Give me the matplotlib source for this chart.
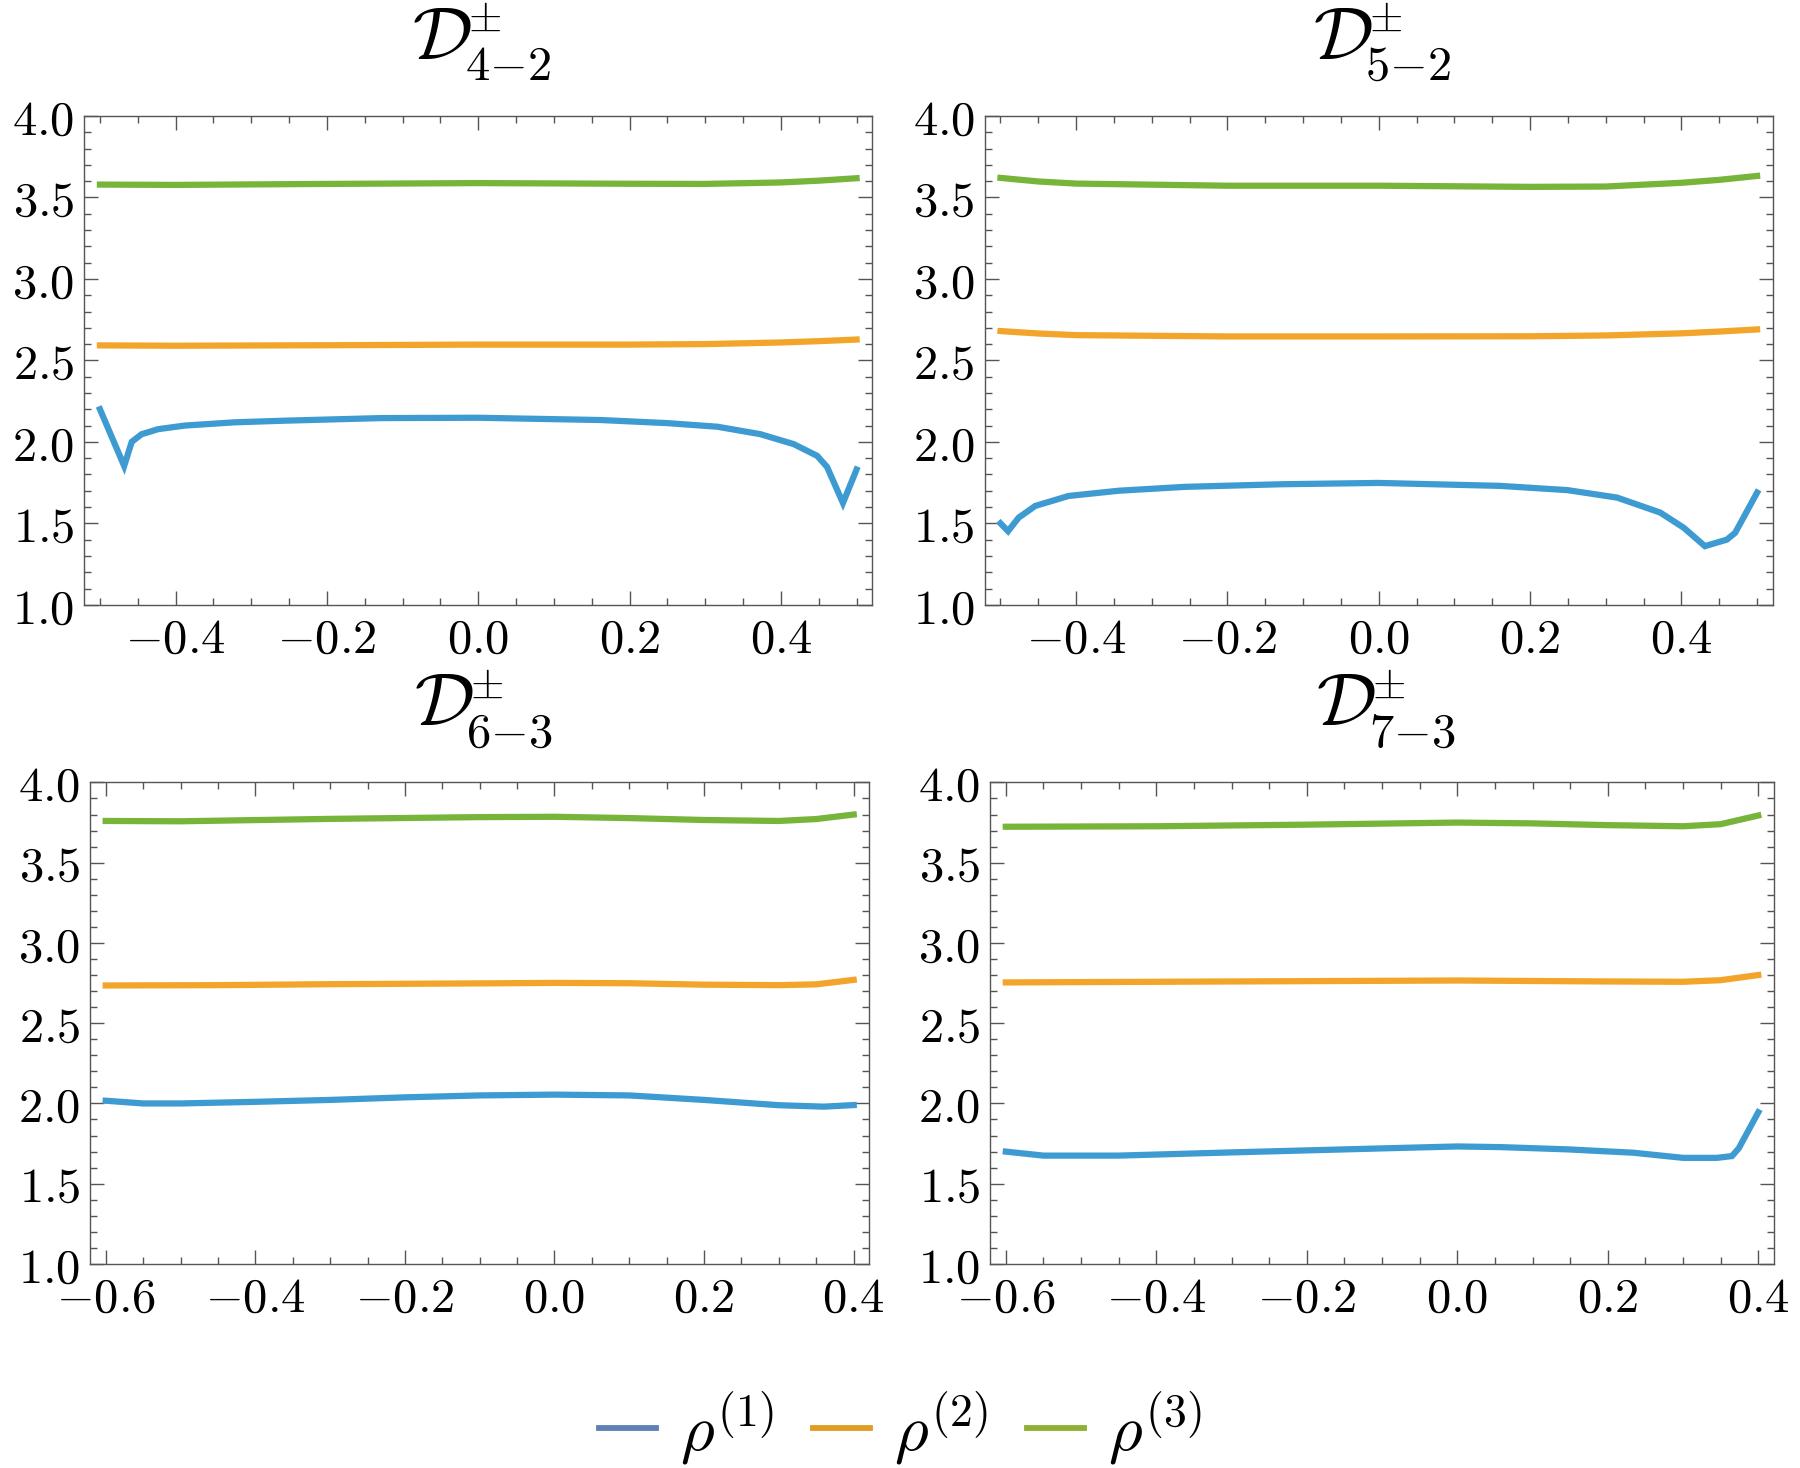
"""
Four-panel comparison of rho^(1..3) for the D^pm channels
"""

import numpy as np
import matplotlib.pyplot as plt
from matplotlib.lines import Line2D
from matplotlib.ticker import FixedLocator, FixedFormatter, MultipleLocator

plt.rcParams['mathtext.fontset'] = 'cm'
plt.rcParams['font.family'] = 'serif'
plt.rcParams['font.serif'] = ['DejaVu Serif']

# ---- data ----
subscripts = [r'$4{-}2$', r'$5{-}2$', r'$6{-}3$', r'$7{-}3$']
legend_labels = [r'$\rho^{(1)}$', r'$\rho^{(2)}$', r'$\rho^{(3)}$']

# panel 4-2
x42_r1 = [-0.50, -0.468, -0.458, -0.445, -0.423, -0.388, -0.322, -0.256, -0.128, 0.0,
          0.162, 0.25, 0.316, 0.373, 0.417, 0.448, 0.461, 0.482, 0.50]
y42_r1 = [2.20, 1.852, 2.0, 2.047, 2.078, 2.10, 2.12, 2.13, 2.146, 2.148,
          2.134, 2.115, 2.093, 2.047, 1.986, 1.914, 1.846, 1.625, 1.83]
x42_r2 = [-0.50, -0.4, -0.2, 0.0, 0.2, 0.3, 0.4, 0.45, 0.50]
y42_r2 = [2.592, 2.590, 2.593, 2.597, 2.597, 2.600, 2.610, 2.618, 2.628]
x42_r3 = [-0.50, -0.4, -0.2, 0.0, 0.2, 0.3, 0.4, 0.45, 0.50]
y42_r3 = [3.579, 3.577, 3.583, 3.588, 3.584, 3.583, 3.592, 3.603, 3.618]

# panel 5-2
x52_r1 = [-0.50, -0.49, -0.476, -0.454, -0.41, -0.344, -0.256, -0.128, 0.0,
          0.16, 0.249, 0.315, 0.372, 0.403, 0.431, 0.46, 0.471, 0.50]
y52_r1 = [1.50, 1.452, 1.535, 1.607, 1.668, 1.70, 1.724, 1.74, 1.748,
          1.73, 1.704, 1.658, 1.566, 1.473, 1.36, 1.40, 1.442, 1.689]
x52_r2 = [-0.50, -0.45, -0.4, -0.2, 0.0, 0.2, 0.3, 0.4, 0.45, 0.50]
y52_r2 = [2.680, 2.665, 2.655, 2.647, 2.647, 2.648, 2.653, 2.666, 2.677, 2.690]
x52_r3 = [-0.50, -0.45, -0.4, -0.2, 0.0, 0.2, 0.3, 0.4, 0.45, 0.50]
y52_r3 = [3.620, 3.598, 3.585, 3.572, 3.572, 3.565, 3.567, 3.590, 3.608, 3.632]

# panel 6-3
x63_r1 = [-0.60, -0.55, -0.50, -0.40, -0.30, -0.20, -0.10, 0.0, 0.10, 0.20,
          0.30, 0.36, 0.40]
y63_r1 = [2.017, 2.0, 2.0, 2.01, 2.022, 2.038, 2.05, 2.055, 2.05, 2.022,
          1.989, 1.98, 1.99]
x63_r2 = [-0.60, -0.45, -0.30, -0.10, 0.0, 0.10, 0.20, 0.30, 0.35, 0.40]
y63_r2 = [2.735, 2.737, 2.743, 2.748, 2.751, 2.749, 2.740, 2.737, 2.742, 2.770]
x63_r3 = [-0.60, -0.50, -0.30, -0.10, 0.0, 0.10, 0.20, 0.30, 0.35, 0.40]
y63_r3 = [3.760, 3.758, 3.773, 3.784, 3.786, 3.778, 3.766, 3.760, 3.772, 3.800]

# panel 7-3
x73_r1 = [-0.60, -0.55, -0.45, -0.30, -0.10, 0.0, 0.057, 0.146, 0.234, 0.30,
          0.345, 0.365, 0.374, 0.40]
y73_r1 = [1.70, 1.675, 1.675, 1.695, 1.72, 1.732, 1.728, 1.714, 1.693, 1.661,
          1.661, 1.672, 1.72, 1.945]
x73_r2 = [-0.60, -0.30, 0.0, 0.20, 0.30, 0.35, 0.40]
y73_r2 = [2.754, 2.760, 2.766, 2.760, 2.758, 2.768, 2.800]
x73_r3 = [-0.60, -0.40, -0.20, 0.0, 0.10, 0.20, 0.30, 0.35, 0.40]
y73_r3 = [3.724, 3.727, 3.737, 3.750, 3.745, 3.734, 3.727, 3.740, 3.794]

panels = [
    [(x42_r1, y42_r1), (x42_r2, y42_r2), (x42_r3, y42_r3)],
    [(x52_r1, y52_r1), (x52_r2, y52_r2), (x52_r3, y52_r3)],
    [(x63_r1, y63_r1), (x63_r2, y63_r2), (x63_r3, y63_r3)],
    [(x73_r1, y73_r1), (x73_r2, y73_r2), (x73_r3, y73_r3)],
]

xticks_top = [-0.4, -0.2, 0.0, 0.2, 0.4]
xlabels_top = [r'$-0.4$', r'$-0.2$', r'$0.0$', r'$0.2$', r'$0.4$']
xticks_bot = [-0.6, -0.4, -0.2, 0.0, 0.2, 0.4]
xlabels_bot = [r'$-0.6$', r'$-0.4$', r'$-0.2$', r'$0.0$', r'$0.2$', r'$0.4$']
yticks = [1.0, 1.5, 2.0, 2.5, 3.0, 3.5, 4.0]
ylabels = [r'$1.0$', r'$1.5$', r'$2.0$', r'$2.5$', r'$3.0$', r'$3.5$', r'$4.0$']

line_colors = ['#3e9bd2', '#f3a42a', '#76b43a']
legend_colors = ['#5e81b5', '#e19c24', '#8fb032']

# ---- figure ----
fig = plt.figure(figsize=(18, 14.68), dpi=100)
rects = [
    [0.0467, 0.588, 0.438, 0.333],
    [0.547, 0.588, 0.438, 0.333],
    [0.050, 0.139, 0.433, 0.328],
    [0.550, 0.139, 0.4356, 0.328],
]
xlims = [(-0.521, 0.521), (-0.521, 0.521), (-0.621, 0.421), (-0.621, 0.421)]

for i, rect in enumerate(rects):
    ax = fig.add_axes(rect)
    for (x, y), c in zip(panels[i], line_colors):
        ax.plot(x, y, color=c, lw=4.5, solid_joinstyle='miter')
    ax.set_xlim(*xlims[i])
    ax.set_ylim(1.0, 4.0)
    if i < 2:
        ax.xaxis.set_major_locator(FixedLocator(xticks_top))
        ax.xaxis.set_major_formatter(FixedFormatter(xlabels_top))
    else:
        ax.xaxis.set_major_locator(FixedLocator(xticks_bot))
        ax.xaxis.set_major_formatter(FixedFormatter(xlabels_bot))
    ax.xaxis.set_minor_locator(MultipleLocator(0.05))
    ax.yaxis.set_major_locator(FixedLocator(yticks))
    ax.yaxis.set_major_formatter(FixedFormatter(ylabels))
    ax.yaxis.set_minor_locator(MultipleLocator(0.1))
    ax.tick_params(which='both', direction='in', top=True, right=True,
                   color='#555555', width=1.0, labelsize=35)
    ax.tick_params(which='major', length=10)
    ax.tick_params(which='minor', length=5)
    ax.tick_params(axis='y', pad=7)
    ax.tick_params(axis='x', pad=8)
    for s in ax.spines.values():
        s.set_color('#555555')
        s.set_linewidth(1.0)

    # title D^pm_{a-b}, built from three pieces like the original
    kw = dict(xycoords='axes fraction', textcoords='offset points')
    ax.annotate(r'$\mathcal{D}$', xy=(0.5, 1.0), xytext=(-26, 41),
                ha='center', va='baseline', fontsize=54, **kw)
    ax.annotate(r'$\pm$', xy=(0.5, 1.0), xytext=(4.7, 61),
                ha='center', va='baseline', fontsize=31, **kw)
    ax.annotate(subscripts[i], xy=(0.5, 1.0), xytext=(-9.7, 26),
                ha='left', va='baseline', fontsize=35, **kw)

handles = [Line2D([0], [0], color=c, lw=4.2) for c in legend_colors]
fig.legend(handles, legend_labels, loc='center', ncol=3, frameon=False,
           fontsize=47, handlelength=0.88, handletextpad=0.36,
           columnspacing=0.6, bbox_to_anchor=(0.5, 0.027))

plt.savefig('out.png', dpi=100)
